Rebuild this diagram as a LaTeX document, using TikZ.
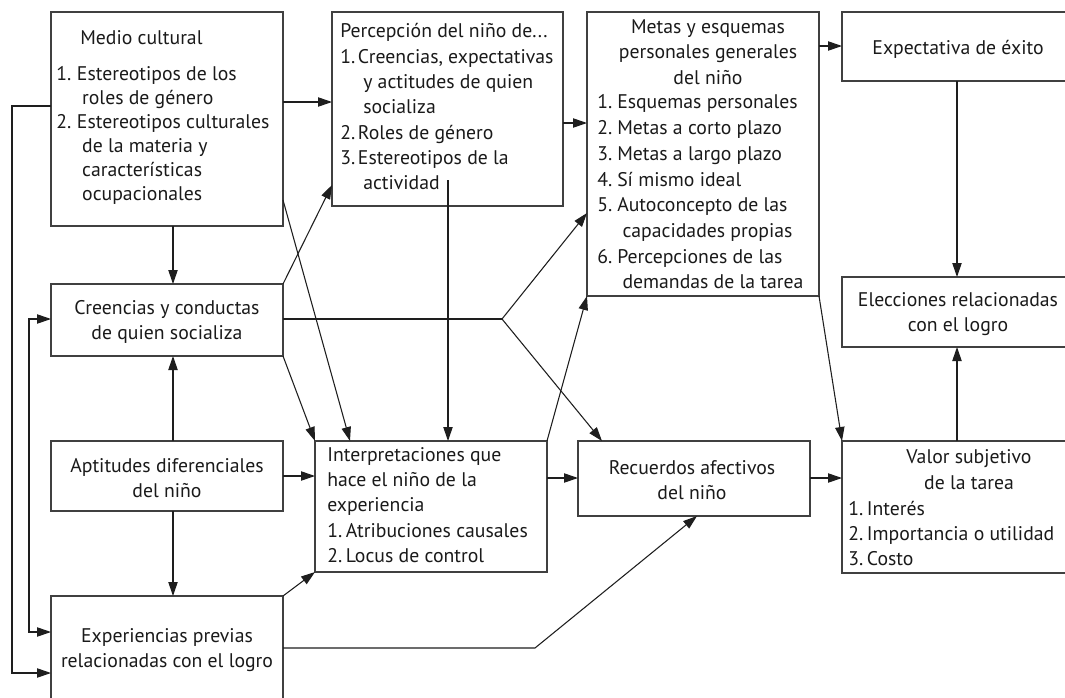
\documentclass[tikz,border=0pt]{standalone}
\usepackage{fontspec}
\setmainfont{PT Sans}
\usetikzlibrary{arrows.meta,calc}
\definecolor{boxc}{HTML}{404040}
\definecolor{linec}{HTML}{1E1E1E}
\definecolor{txtc}{HTML}{1A1A1A}
\newcommand{\li}[2][14pt]{\makebox[#1][l]{#2}}
\newcommand{\lc}[1][14pt]{\hspace*{#1}}
\newcommand{\mybox}[5]{\node[box,minimum width={(#4-#2)*0.75pt},minimum height={(#5-#3)*0.75pt}] (#1) at (#2,#3) {};}
\begin{document}
\begin{tikzpicture}[x=0.75pt,y=-0.75pt,
  box/.style={draw=boxc,line width=1.1pt,anchor=north west,inner sep=0pt,outer sep=0pt},
  txt/.style={inner sep=0pt,font=\fontsize{14.8}{19}\selectfont,text=txtc},
  conn/.style={draw=linec,line width=0.8pt,-{Triangle[length=10.5pt,width=7pt]}},
  conntwo/.style={draw=linec,line width=0.8pt,{Triangle[length=10.5pt,width=7pt]}-{Triangle[length=10.5pt,width=7pt]}},
  plain/.style={draw=linec,line width=0.8pt}]
\useasboundingbox[fill=white] (0,0) rectangle (1065,697);
\clip (0,0) rectangle (1065,697);
% boxes
\mybox{mc}{51}{12}{283}{226}
\mybox{pn}{332}{12}{563}{206}
\mybox{mg}{587}{12}{819}{296}
\mybox{ee}{842}{12}{1090}{81}
\mybox{el}{842}{277}{1090}{347}
\mybox{cc}{51}{284}{283}{356}
\mybox{ad}{51}{441}{283}{511}
\mybox{ep}{51}{596}{283}{730}
\mybox{in}{315}{441}{547}{572}
\mybox{ra}{578}{441}{810}{516}
\mybox{vs}{842}{441}{1090}{573}
% texts
\node[txt,anchor=west] (mcH) at (80,38) {Medio cultural};
\node[txt,anchor=west,align=left,font=\fontsize{14.8}{18}\selectfont] (mcL) at (56,135)
  {\li[15.5pt]{1.}Estereotipos de los\\\lc[15.5pt] roles de género\\\li[15.5pt]{2.}Estereotipos culturales\\\lc[15.5pt] de la materia y\\\lc[15.5pt] características\\\lc[15.5pt] ocupacionales};
\node[txt,anchor=west,align=left] (pnT) at (340,107)
  {Percepción del niño de...\\\li[13.3pt]{1.}Creencias, expectativas\\\lc[13.3pt] y actitudes de quien\\\lc[13.3pt] socializa\\\li[13.3pt]{2.}Roles de género\\\li[13.3pt]{3.}Estereotipos de la\\\lc[13.3pt] actividad};
\node[txt,align=center] (mgH) at (708,52) {Metas y esquemas\\personales generales\\del niño};
\node[txt,anchor=west,align=left,font=\fontsize{14.8}{19.3}\selectfont] (mgL) at (597,192)
  {\li[15pt]{1.}Esquemas personales\\\li[15pt]{2.}Metas a corto plazo\\\li[15pt]{3.}Metas a largo plazo\\\li[15pt]{4.}Sí mismo ideal\\\li[15pt]{5.}Autoconcepto de las\\\lc[15pt] capacidades propias\\\li[15pt]{6.}Percepciones de las\\\lc[15pt] demandas de la tarea};
\node[txt] (eeT) at (958,49) {Expectativa de éxito};
\node[txt,align=center] (elT) at (958,314) {Elecciones relacionadas\\con el logro};
\node[txt,align=center] (ccT) at (167,322) {Creencias y conductas\\de quien socializa};
\node[txt,align=center] (adT) at (167,478) {Aptitudes diferenciales\\del niño};
\node[txt,align=center] (epT) at (167,650) {Experiencias previas\\relacionadas con el logro};
\node[txt,anchor=west,align=left] (inT) at (327,505)
  {Interpretaciones que\\hace el niño de la\\experiencia\\\li{1.}Atribuciones causales\\\li{2.}Locus de control};
\node[txt,align=center] (raT) at (692,480) {Recuerdos afectivos\\del niño};
\node[txt,align=center] (vsH) at (969,469.5) {Valor subjetivo\\de la tarea};
\node[txt,anchor=west,align=left] (vsL) at (848,533.5)
  {\li[14pt]{1.}Interés\\\li[14pt]{2.}Importancia o utilidad\\\li[14pt]{3.}Costo};
% named free points
\coordinate (fork) at (502,319);
\coordinate (pnin) at (448,180);
\coordinate (epk) at (535,648);
\coordinate (lx1) at (12,400);
\coordinate (lx2) at (29,450);
% connectors
\draw[conn] (mc.east |- 0,102) -- (pn.west |- 0,102);
\draw[conn] (mc.south -| 173,0) -- (cc.north -| 173,0);
\draw[conn] (mc.east |- 0,200) -- (in.north -| 350,0);
\draw[conn] (cc.north east) -- (pn.west |- 0,185);
\draw[plain] (cc.east |- fork) -- (fork);
\draw[conn] (fork) -- (mg.west |- 0,213);
\draw[conn] (fork) -- (ra.north -| 602,0);
\draw[conn] (cc.south east) -- (in.north west);
\draw[conn] (pn.east |- 0,123) -- (mg.west |- 0,123);
\draw[conn] (pnin) -- (in.north -| pnin);
\draw[conn] (mg.east |- 0,46) -- (ee.west |- 0,46);
\draw[conn] (mg.south east) -- (vs.north west);
\draw[conn] (ee.south -| 957,0) -- (el.north -| 957,0);
\draw[conn] (vs.north -| 957,0) -- (el.south -| 957,0);
\draw[conn] (ad.north -| 173,0) -- (cc.south -| 173,0);
\draw[conn] (ad.south -| 173,0) -- (ep.north -| 173,0);
\draw[conn] (ad.east |- 0,476) -- (in.west |- 0,476);
\draw[conn] (ep.north east) -- (in.south west);
\draw[conn] (ep.east |- epk) -- (epk) -- (ra.south -| 697,0);
\draw[conn] (in.north east) -- (mg.south west);
\draw[conn] (in.east |- 0,478) -- (ra.west |- 0,478);
\draw[conn] (ra.east |- 0,478) -- (vs.west |- 0,478);
\draw[conn] (mc.west |- 0,106) -| (lx1) |- (ep.west |- 0,673);
\draw[conntwo] (cc.west |- fork) -| (lx2) |- (ep.west |- 0,632);
\end{tikzpicture}
\end{document}
